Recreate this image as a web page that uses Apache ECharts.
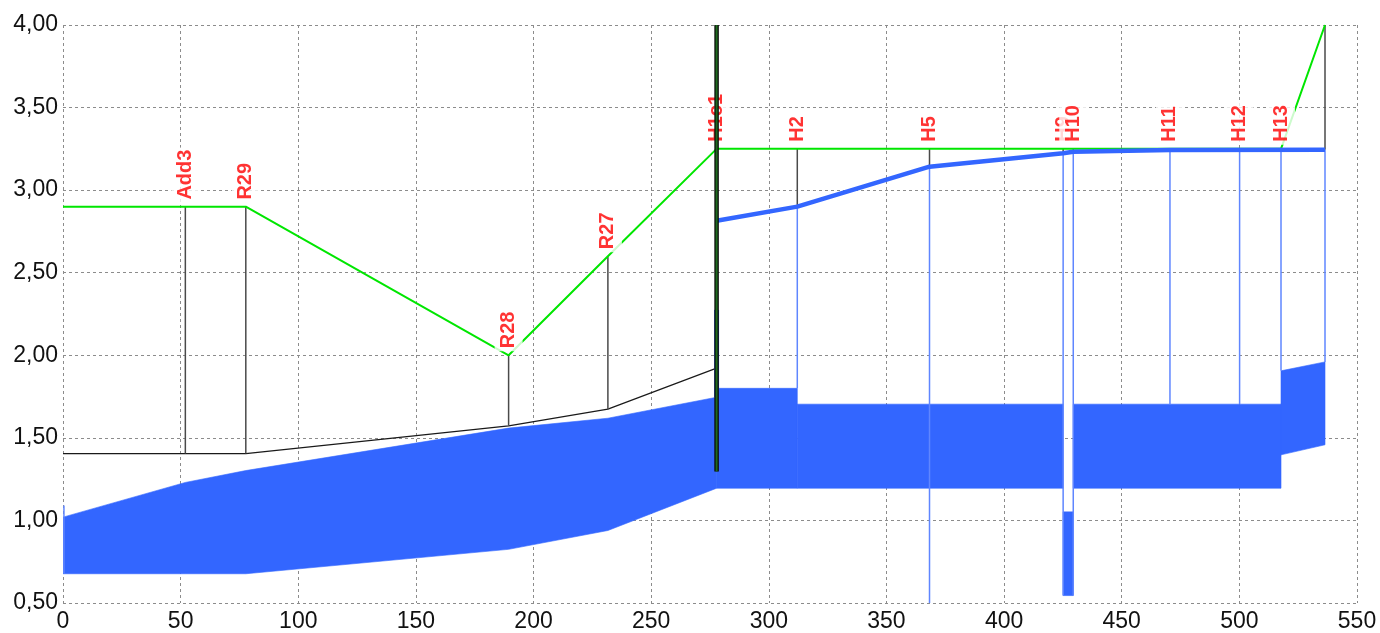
<!DOCTYPE html>
<html>
<head>
<meta charset="utf-8">
<script src="https://cdn.jsdelivr.net/npm/echarts@6/dist/echarts.min.js"></script>
<style>
  html, body { margin: 0; padding: 0; background: #fff; }
  #chart { width: 1380px; height: 633px; }
</style>
</head>
<body>
<div id="chart"></div>
<script>
// Manhole stations along the line (m) and their names
const stationX = [52.0, 77.7, 189.4, 231.6, 277.8, 312.1, 368.3, 425.1, 429.4, 470.5, 500.1, 517.7];
const stationNames = ['Add3', 'R29', 'R28', 'R27', 'H1c1', 'H2', 'H5', 'H9', 'H10', 'H11', 'H12', 'H13'];

// Ground surface [x, level]
const groundProfile = [[0, 2.90], [52.0, 2.90], [77.7, 2.90], [189.4, 2.00], [231.6, 2.60], [277.8, 3.25],
  [312.1, 3.25], [368.3, 3.25], [425.1, 3.25], [429.4, 3.25], [470.5, 3.25], [500.1, 3.25], [517.7, 3.25], [536.4, 4.00]];

// Upper reference line of the left branch [x, level]
const crownLine = [[0, 1.405], [77.7, 1.405], [189.4, 1.573], [231.6, 1.674], [277.8, 1.922]];

// Water level [x, level]
const waterLevel = [[277.8, 2.815], [312.1, 2.90], [368.3, 3.142], [425.1, 3.223], [429.4, 3.233], [470.5, 3.243], [536.4, 3.245]];

// Pipe reaches, rows of [x, invert, top]
const reachA = [[0, 0.677, 1.02], [52.0, 0.677, 1.23], [77.7, 0.677, 1.302], [189.4, 0.825, 1.559], [231.6, 0.939, 1.619], [277.8, 1.195, 1.746]];
const reachB = [[277.8, 1.195, 1.80], [312.1, 1.195, 1.80]];
const reachC = [[312.1, 1.195, 1.704], [425.1, 1.195, 1.704]];
const reachD = [[429.4, 1.195, 1.704], [517.7, 1.195, 1.704]];
const reachE = [[517.7, 1.397, 1.906], [536.4, 1.458, 1.960]];
const sumpH9 = [[425.1, 0.545, 1.052], [429.4, 0.545, 1.052]];

// Shaft walls [x, from, to]
const shaftsDark = [[52.0, 2.90, 1.405], [77.7, 2.90, 1.405], [189.4, 2.00, 1.573], [231.6, 2.60, 1.674],
  [312.1, 3.25, 2.90], [368.3, 3.25, 3.142], [425.1, 3.25, 3.223], [429.4, 3.25, 3.233], [536.4, 4.00, 3.245]];
const shaftsBlue = [[0.4, 1.09, 0.677], [277.8, 2.815, 1.746], [312.1, 2.90, 1.80], [368.3, 3.142, 0.50],
  [425.1, 3.223, 0.545], [429.4, 3.233, 0.545], [470.5, 3.243, 1.704], [500.1, 3.243, 1.704],
  [517.7, 3.243, 1.906], [536.4, 3.245, 1.96]];

// Chamber at H1c1 and its gauge post [x, from, to]
const chamberH1c1 = [[277.8, 2.275, 1.746]];
const gaugeH1c1 = [[277.8, 4.00, 1.296]];

// Axis ticks
const yTicks = [0.5, 1.0, 1.5, 2.0, 2.5, 3.0, 3.5, 4.0];
const yTickLabels = ['0,50', '1,00', '1,50', '2,00', '2,50', '3,00', '3,50', '4,00'];

const PIPE_BLUE = '#3366ff';
const reaches = [reachA, reachB, reachC, reachD, reachE, sumpH9];

function groundAt(x) {
  const p = groundProfile.find(g => Math.abs(g[0] - x) < 1e-6);
  return p ? p[1] : null;
}

function renderReach(params, api) {
  const r = reaches[params.dataIndex];
  const top = r.map(p => api.coord([p[0], p[2]]));
  const bot = r.slice().reverse().map(p => api.coord([p[0], p[1]]));
  return {
    type: 'polygon',
    shape: { points: top.concat(bot) },
    style: { fill: PIPE_BLUE, stroke: PIPE_BLUE, lineWidth: 0.6 }
  };
}

function shaftRenderer(color, width) {
  return function (params, api) {
    const a = api.coord([api.value(0), api.value(1)]);
    const b = api.coord([api.value(0), api.value(2)]);
    return {
      type: 'line',
      shape: { x1: a[0], y1: a[1], x2: b[0], y2: b[1] },
      style: { stroke: color, lineWidth: width }
    };
  };
}

function renderChamber(params, api) {
  const a = api.coord([api.value(0), api.value(1)]);
  const b = api.coord([api.value(0), api.value(2)]);
  return {
    type: 'rect',
    shape: { x: a[0] - 2.5, y: a[1], width: 5, height: b[1] - a[1] },
    style: { fill: PIPE_BLUE }
  };
}

function renderGauge(params, api) {
  const a = api.coord([api.value(0), api.value(1)]);
  const b = api.coord([api.value(0), api.value(2)]);
  const shape = { x1: a[0], y1: a[1], x2: b[0], y2: b[1] };
  return {
    type: 'group',
    children: [
      { type: 'line', shape: shape, style: { stroke: '#0a0a0a', lineWidth: 4.5 } },
      { type: 'line', shape: shape, style: { stroke: '#1f6a1f', lineWidth: 2 } }
    ]
  };
}

const chart = echarts.init(document.getElementById('chart'), null, { renderer: 'canvas' });

const gridLine = { show: true, lineStyle: { color: '#8c8c8c', type: [3, 3], width: 1 } };
const axisFont = { color: '#111', fontSize: 23, fontFamily: 'Liberation Sans, Arial, sans-serif' };

chart.setOption({
  animation: false,
  backgroundColor: '#fff',
  grid: { left: 63, right: 23, top: 25, bottom: 30, containLabel: false, outerBoundsMode: 'none' },
  xAxis: {
    type: 'value', min: 0, max: 550, interval: 50,
    axisLine: { show: false }, axisTick: { show: false },
    splitLine: gridLine,
    axisLabel: Object.assign({ margin: 7 }, axisFont)
  },
  yAxis: {
    type: 'value', min: 0.5, max: 4.0, interval: 0.5,
    axisLine: { show: false }, axisTick: { show: false },
    splitLine: gridLine,
    axisLabel: Object.assign({
      margin: 5,
      formatter: v => {
        const i = yTicks.findIndex(t => Math.abs(t - v) < 1e-6);
        return i >= 0 ? yTickLabels[i] : '';
      }
    }, axisFont)
  },
  series: [
    {
      type: 'custom', name: 'pipe', z: 1, silent: true, clip: true,
      renderItem: renderReach,
      data: reaches.map(r => [r[0][0], r[0][1]])
    },
    {
      type: 'line', name: 'crown', z: 2, silent: true, symbol: 'none',
      data: crownLine,
      lineStyle: { color: '#1a1a1a', width: 1.2 }
    },
    {
      type: 'custom', name: 'shafts', z: 3, silent: true, clip: true,
      renderItem: shaftRenderer('#4a4a4a', 1.5),
      encode: { x: 0, y: [1, 2] },
      data: shaftsDark
    },
    {
      type: 'custom', name: 'shaftsWater', z: 3, silent: true, clip: true,
      renderItem: shaftRenderer('#5f86ff', 1.5),
      encode: { x: 0, y: [1, 2] },
      data: shaftsBlue
    },
    {
      type: 'custom', name: 'chamber', z: 3, silent: true, clip: true,
      renderItem: renderChamber,
      encode: { x: 0, y: [1, 2] },
      data: chamberH1c1
    },
    {
      type: 'line', name: 'ground', z: 4, silent: true, symbol: 'none',
      data: groundProfile,
      lineStyle: { color: '#00e600', width: 2 }
    },
    {
      type: 'line', name: 'water', z: 5, silent: true, symbol: 'none',
      data: waterLevel,
      lineStyle: { color: PIPE_BLUE, width: 4.5 }
    },
    {
      type: 'scatter', name: 'names', z: 10, silent: true,
      symbol: 'circle', symbolSize: 0.1,
      itemStyle: { color: 'rgba(0,0,0,0)' },
      data: stationX.map((x, i) => ({ name: stationNames[i], value: [x, groundAt(x)] })),
      label: {
        show: true, position: 'top', distance: 4, rotate: 90,
        align: 'left', verticalAlign: 'middle',
        formatter: '{b}',
        color: '#ff0000', fontWeight: 'bold', fontSize: 20,
        fontFamily: 'Liberation Sans, Arial, sans-serif',
        backgroundColor: '#ffffff', padding: [4, 2, 4, 3]
      },
      labelLayout: { hideOverlap: false }
    },
    {
      type: 'custom', name: 'gauge', z: 12, silent: true, clip: true,
      renderItem: renderGauge,
      encode: { x: 0, y: [1, 2] },
      data: gaugeH1c1
    }
  ]
});
</script>
</body>
</html>
